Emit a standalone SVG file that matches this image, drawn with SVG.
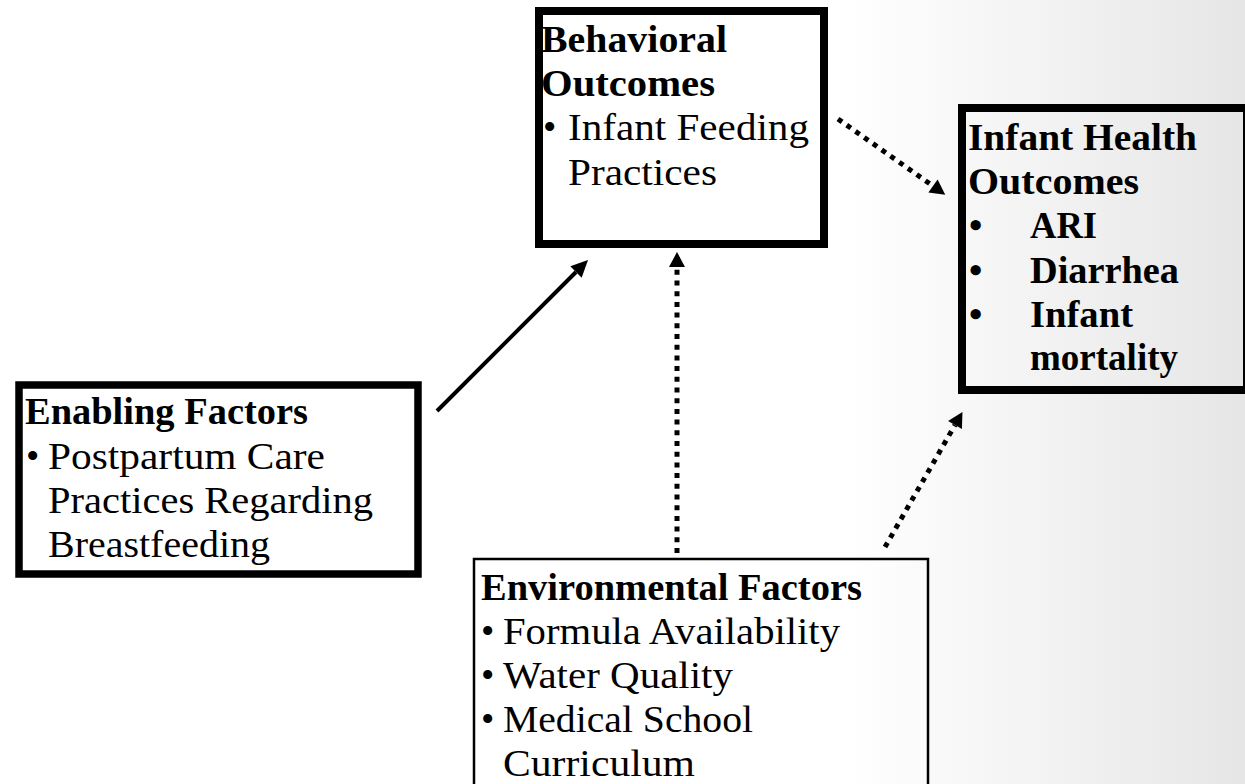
<svg xmlns="http://www.w3.org/2000/svg" width="1245" height="784" viewBox="0 0 1245 784">
<style>
  .box { fill: none; stroke: #000; }
  .thick { stroke-width: 8; }
  .thin { stroke-width: 2.5; }
  text { font-family: "Liberation Serif", "Times New Roman", serif; font-size: 38px; fill: #000; }
  .b { font-weight: bold; }
  .conn { fill: none; stroke: #000; }
  .solid { stroke-width: 4; }
  .dot { stroke-width: 5; stroke-dasharray: 5 5.7; }
</style>
<defs>
  <linearGradient id="bg" x1="0" y1="0" x2="1" y2="0">
    <stop offset="0" stop-color="#ffffff"/>
    <stop offset="0.68" stop-color="#ffffff"/>
    <stop offset="1" stop-color="#e6e6e6"/>
  </linearGradient>
  <marker id="headSolid" markerUnits="userSpaceOnUse" markerWidth="22" markerHeight="22" viewBox="0 -11 22 22" refX="0" refY="0" orient="auto" overflow="visible">
    <path d="M0,-8 L17,0 L0,8 z" fill="#000"/>
  </marker>
  <marker id="headDot" markerUnits="userSpaceOnUse" markerWidth="22" markerHeight="22" viewBox="0 -11 22 22" refX="0" refY="0" orient="auto" overflow="visible">
    <path d="M0,-8 L15,0 L0,8 z" fill="#000"/>
  </marker>
</defs>
<rect x="0" y="0" width="1245" height="784" fill="url(#bg)"/>

<g id="connectors">
  <line class="conn solid" x1="437" y1="411" x2="576" y2="272" marker-end="url(#headSolid)"/>
  <line class="conn dot" x1="677" y1="553" x2="677" y2="267" marker-end="url(#headDot)"/>
  <line class="conn dot" x1="838" y1="119" x2="933" y2="186" marker-end="url(#headDot)"/>
  <line class="conn dot" x1="885" y1="547" x2="955" y2="425" marker-end="url(#headDot)"/>
</g>

<g id="behavioral">
  <rect class="box thick" x="539" y="11" width="285" height="233"/>
  <text class="b" x="541" y="52" textLength="186" lengthAdjust="spacingAndGlyphs">Behavioral</text>
  <text class="b" x="541" y="96" textLength="174" lengthAdjust="spacingAndGlyphs">Outcomes</text>
  <text x="543" y="140">•</text>
  <text x="568" y="140" textLength="241" lengthAdjust="spacingAndGlyphs">Infant Feeding</text>
  <text x="568" y="185" textLength="149" lengthAdjust="spacingAndGlyphs">Practices</text>
</g>

<g id="infant-health">
  <rect class="box thick" x="962" y="108" width="285" height="282"/>
  <text class="b" x="968" y="150" textLength="229" lengthAdjust="spacingAndGlyphs">Infant Health</text>
  <text class="b" x="968" y="194" textLength="171" lengthAdjust="spacingAndGlyphs">Outcomes</text>
  <text class="b" x="969" y="238">•</text>
  <text class="b" x="1030" y="238" textLength="67" lengthAdjust="spacingAndGlyphs">ARI</text>
  <text class="b" x="969" y="283">•</text>
  <text class="b" x="1030" y="283" textLength="149" lengthAdjust="spacingAndGlyphs">Diarrhea</text>
  <text class="b" x="969" y="327">•</text>
  <text class="b" x="1030" y="327" textLength="103" lengthAdjust="spacingAndGlyphs">Infant</text>
  <text class="b" x="1030" y="370" textLength="148" lengthAdjust="spacingAndGlyphs">mortality</text>
</g>

<g id="enabling">
  <rect class="box" stroke-width="7.5" x="19" y="385" width="399" height="189"/>
  <text class="b" x="25" y="424" textLength="283" lengthAdjust="spacingAndGlyphs">Enabling Factors</text>
  <text x="26" y="469">•</text>
  <text x="48" y="469" textLength="277" lengthAdjust="spacingAndGlyphs">Postpartum Care</text>
  <text x="48" y="513" textLength="325" lengthAdjust="spacingAndGlyphs">Practices Regarding</text>
  <text x="48" y="557" textLength="222" lengthAdjust="spacingAndGlyphs">Breastfeeding</text>
</g>

<g id="environmental">
  <rect class="box thin" x="474" y="559" width="454" height="240"/>
  <text class="b" x="481" y="600" textLength="381" lengthAdjust="spacingAndGlyphs">Environmental Factors</text>
  <text x="481" y="644">•</text>
  <text x="503" y="644" textLength="337" lengthAdjust="spacingAndGlyphs">Formula Availability</text>
  <text x="481" y="688">•</text>
  <text x="503" y="688" textLength="230" lengthAdjust="spacingAndGlyphs">Water Quality</text>
  <text x="481" y="732">•</text>
  <text x="503" y="732" textLength="250" lengthAdjust="spacingAndGlyphs">Medical School</text>
  <text x="503" y="776" textLength="192" lengthAdjust="spacingAndGlyphs">Curriculum</text>
</g>
</svg>
